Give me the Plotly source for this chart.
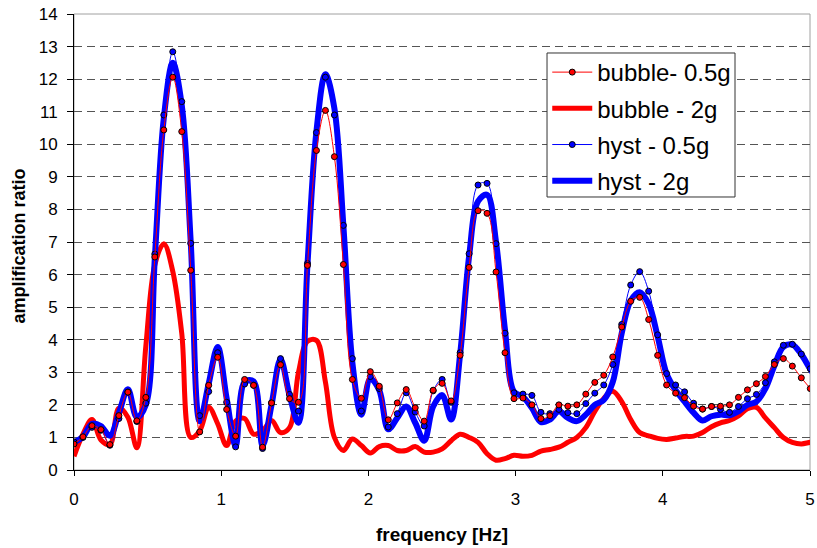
import plotly.graph_objects as go

# frequency grid [Hz]
freq = [0.000, 0.061, 0.122, 0.183, 0.244, 0.305, 0.366, 0.427, 0.488, 0.549,
        0.610, 0.671, 0.732, 0.793, 0.854, 0.915, 0.976, 1.037, 1.098, 1.159,
        1.220, 1.281, 1.342, 1.403, 1.464, 1.525, 1.586, 1.647, 1.708, 1.769,
        1.830, 1.891, 1.952, 2.013, 2.074, 2.135, 2.196, 2.257, 2.318, 2.379,
        2.440, 2.501, 2.562, 2.623, 2.684, 2.745, 2.806, 2.867, 2.928, 2.989,
        3.050, 3.111, 3.172, 3.233, 3.294, 3.355, 3.416, 3.477, 3.538, 3.599,
        3.660, 3.721, 3.782, 3.843, 3.904, 3.965, 4.026, 4.087, 4.148, 4.209,
        4.270, 4.331, 4.392, 4.453, 4.514, 4.575, 4.636, 4.697, 4.758, 4.819,
        4.880, 4.941, 5.002, 5.063]

bubble_05 = [0.80, 1.02, 1.36, 1.24, 0.78, 1.67, 2.39, 1.51, 2.23, 6.54,
             10.44, 12.06, 10.39, 6.13, 1.17, 2.60, 3.46, 1.86, 1.04, 2.78,
             2.60, 0.70, 2.06, 3.23, 2.19, 2.08, 6.28, 9.81, 11.04, 9.62,
             6.31, 2.78, 2.20, 3.02, 2.57, 1.54, 2.06, 2.47, 1.91, 1.50,
             2.45, 2.66, 2.12, 3.52, 6.22, 7.96, 7.88, 6.08, 3.60, 2.19,
             2.21, 2.00, 1.58, 1.67, 2.00, 1.96, 2.00, 2.33, 2.69, 2.91,
             3.47, 4.39, 5.18, 5.30, 4.62, 3.52, 2.61, 2.36, 2.22, 1.96,
             1.87, 1.95, 1.96, 2.00, 2.23, 2.46, 2.65, 2.87, 3.24, 3.42,
             3.19, 2.83, 2.50, 2.20]

bubble_2g = [0.42, 1.10, 1.55, 0.92, 0.78, 1.90, 1.62, 0.68, 3.80, 6.30,
             6.95, 6.10, 4.20, 1.00, 1.20, 1.93, 1.42, 0.75, 1.50, 1.58,
             1.10, 1.20, 1.52, 1.15, 1.30, 3.00, 3.95, 3.98, 2.70, 1.00,
             0.60, 0.95, 0.75, 0.52, 0.72, 0.75, 0.60, 0.60, 0.72, 0.55,
             0.55, 0.65, 0.90, 1.10, 1.00, 0.85, 0.50, 0.30, 0.35, 0.45,
             0.42, 0.45, 0.58, 0.63, 0.70, 0.85, 1.00, 1.30, 1.80, 2.20,
             2.42, 2.10, 1.55, 1.15, 1.05, 0.97, 0.94, 0.98, 1.03, 1.04,
             1.15, 1.33, 1.45, 1.52, 1.66, 1.88, 1.92, 1.60, 1.30, 1.00,
             0.85, 0.80, 0.85, 0.88]

hyst_05 = [0.86, 1.00, 1.31, 1.22, 0.76, 1.58, 2.39, 1.49, 2.05, 6.63,
           10.90, 12.84, 11.31, 6.96, 1.67, 2.41, 3.60, 2.08, 0.71, 2.64,
           2.60, 0.66, 2.06, 3.42, 2.32, 1.81, 6.34, 10.36, 12.06, 10.90,
           7.51, 3.42, 1.81, 2.87, 2.50, 1.32, 1.73, 2.37, 1.78, 1.35,
           2.43, 2.78, 2.08, 3.60, 6.64, 8.75, 8.80, 6.95, 4.20, 2.37,
           2.33, 2.29, 1.77, 1.73, 1.86, 1.76, 1.73, 2.04, 2.36, 2.61,
           3.24, 4.47, 5.68, 6.09, 5.49, 4.15, 2.96, 2.61, 2.40, 2.05,
           1.87, 1.95, 1.86, 1.77, 1.95, 2.19, 2.32, 2.68, 3.32, 3.83,
           3.86, 3.56, 3.11, 2.70]

hyst_2g = [0.85, 1.02, 1.42, 1.35, 1.05, 1.75, 2.48, 1.62, 2.00, 6.50,
           10.80, 12.50, 11.20, 7.00, 1.50, 2.65, 3.78, 2.20, 0.75, 2.70,
           2.72, 0.75, 2.00, 3.40, 2.30, 1.45, 6.30, 10.40, 12.15, 11.10,
           7.50, 3.30, 1.70, 2.80, 2.45, 1.25, 1.60, 1.95, 1.45, 0.90,
           1.95, 2.30, 1.55, 3.55, 6.55, 8.25, 8.45, 7.00, 4.30, 2.40,
           2.25, 1.90, 1.47, 1.55, 1.80, 1.60, 1.50, 1.70, 2.00, 2.15,
           2.70, 4.20, 5.20, 5.46, 5.10, 4.10, 2.95, 2.45, 2.10, 1.76,
           1.52, 1.65, 1.70, 1.68, 1.80, 2.00, 2.10, 2.50, 3.20, 3.78,
           3.85, 3.55, 3.10, 2.70]

x_ticks = [0, 1, 2, 3, 4, 5]
y_ticks = list(range(0, 15))

FONT = "Liberation Sans, Arial, sans-serif"

fig = go.Figure()

fig.add_trace(go.Scatter(
    x=freq, y=bubble_2g, name="bubble - 2g", mode="lines",
    line=dict(color="#FF0000", width=5, shape="spline", smoothing=1),
    legendrank=2, legendgroup="b2"))
fig.add_trace(go.Scatter(
    x=freq, y=hyst_2g, name="hyst - 2g", mode="lines",
    line=dict(color="#0000FF", width=6, shape="spline", smoothing=1),
    legendrank=4, legendgroup="h2"))
fig.add_trace(go.Scatter(
    x=freq, y=hyst_05, name="hyst - 0.5g", mode="lines+markers",
    line=dict(color="#0000FF", width=1, shape="spline", smoothing=1),
    marker=dict(color="#0000FF", size=6, line=dict(color="#000000", width=1)),
    legendrank=3, legendgroup="h05"))
fig.add_trace(go.Scatter(
    x=freq, y=bubble_05, name="bubble- 0.5g", mode="lines+markers",
    line=dict(color="#FF0000", width=1, shape="spline", smoothing=1),
    marker=dict(color="#FF0000", size=6, line=dict(color="#000000", width=1)),
    legendrank=1, legendgroup="b05"))

# plot-area frame (grey, Excel style)
fig.add_shape(type="rect", xref="paper", yref="paper", x0=0, y0=0, x1=1, y1=1,
              line=dict(color="#A0A0A0", width=1), layer="below")
# legend box (white, thin dark border)
fig.add_shape(type="rect", xref="paper", yref="paper",
              x0=0.6427, x1=0.8981, y0=0.5987, y1=0.9145,
              fillcolor="white", line=dict(color="#333333", width=1), layer="above")

# axis titles
fig.add_annotation(text="<b>frequency [Hz]</b>", xref="paper", yref="paper",
                   x=0.5, y=-0.1425, xanchor="center", yanchor="middle",
                   showarrow=False, font=dict(family=FONT, size=19, color="black"))
fig.add_annotation(text="<b>amplification ratio</b>", xref="paper", yref="paper",
                   x=-0.076, y=0.49, xanchor="center", yanchor="middle", textangle=-90,
                   showarrow=False, font=dict(family=FONT, size=18, color="black"))

fig.update_layout(
    width=817, height=548,
    margin=dict(l=74, r=7, t=14, b=78, autoexpand=False),
    paper_bgcolor="white", plot_bgcolor="white",
    font=dict(family=FONT, color="black", size=17),
    showlegend=True,
    legend=dict(
        x=0.643, y=0.921, xanchor="left", yanchor="top",
        bgcolor="rgba(0,0,0,0)", borderwidth=0,
        font=dict(family=FONT, size=24, color="black"),
        tracegroupgap=2, itemwidth=40,
    ),
    xaxis=dict(
        range=[0, 5], tickvals=x_ticks, ticktext=[str(v) for v in x_ticks],
        showgrid=False, zeroline=False, automargin=False,
        showline=True, linecolor="black", linewidth=1,
        ticks="outside", ticklen=5, tickcolor="black", ticklabelstandoff=9,
        ticklabeloverflow="allow",
        tickfont=dict(family=FONT, size=17),
    ),
    yaxis=dict(
        range=[0, 14], tickvals=y_ticks, ticktext=[str(v) for v in y_ticks],
        showgrid=True, gridcolor="#555555", gridwidth=1, griddash="8px,5px",
        zeroline=False, automargin=False,
        showline=True, linecolor="black", linewidth=1,
        ticks="outside", ticklen=6, tickcolor="black", ticklabelstandoff=6,
        ticklabeloverflow="allow",
        tickfont=dict(family=FONT, size=17),
    ),
)

# remove the default 8 px page margin so the figure fills the window exactly
fig.write_html("out.html", config={"displayModeBar": False},
               post_script="document.body.style.margin='0';document.body.style.overflow='hidden';")
